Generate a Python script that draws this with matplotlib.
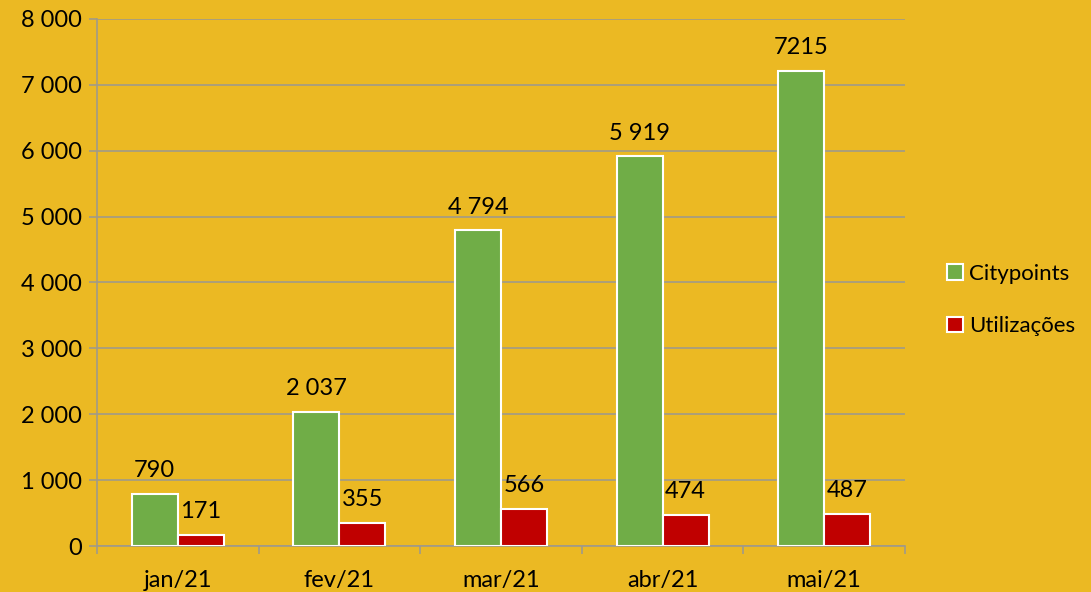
import matplotlib.pyplot as plt
import numpy as np

months = ['jan/21', 'fev/21', 'mar/21', 'abr/21', 'mai/21']
citypoints = [790, 2037, 4794, 5919, 7215]
utilizacoes = [171, 355, 566, 474, 487]
city_labels = ['790', '2 037', '4 794', '5 919', '7215']
util_labels = ['171', '355', '566', '474', '487']
yticks = [0, 1000, 2000, 3000, 4000, 5000, 6000, 7000, 8000]

bg = '#EBB923'
green = '#70AD47'
red = '#C00000'
grid = '#A09A88'
fs = 17

plt.rcParams['font.family'] = ['Lato', 'DejaVu Sans']

fig = plt.figure(figsize=(10.91, 5.92), dpi=100, facecolor=bg)
ax = fig.add_axes([0.0889, 0.0777, 0.7406, 0.8903])
ax.set_facecolor(bg)

x = np.arange(len(months))
w = 0.285
b1 = ax.bar(x - w/2, citypoints, w, color=green, edgecolor='white', linewidth=1.5,
            label='Citypoints', zorder=3)
b2 = ax.bar(x + w/2, utilizacoes, w, color=red, edgecolor='white', linewidth=1.5,
            label='Utilizações', zorder=3)

for bars, labs in ((b1, city_labels), (b2, util_labels)):
    for r, lab in zip(bars, labs):
        ax.annotate(lab, (r.get_x() + r.get_width()/2, r.get_height()),
                    xytext=(0, 9), textcoords='offset points',
                    ha='center', va='bottom', fontsize=fs)

ax.set_xlim(-0.5, len(months) - 0.5)
ax.set_ylim(0, 8000)
ax.set_yticks(yticks)
ax.set_yticklabels(['{:,}'.format(v).replace(',', ' ') for v in yticks], fontsize=fs)
ax.yaxis.grid(True, color=grid, linewidth=1.2, zorder=0)
ax.tick_params(axis='y', length=6, color=grid, width=1.2, pad=5)

ax.set_xticks(x)
ax.set_xticklabels(months, fontsize=fs)
ax.tick_params(axis='x', which='major', length=0, pad=17)
ax.set_xticks(np.arange(len(months) + 1) - 0.5, minor=True)
ax.tick_params(axis='x', which='minor', length=6, color=grid, width=1.2)

for s in ['top', 'right']:
    ax.spines[s].set_visible(False)
for s in ['left', 'bottom']:
    ax.spines[s].set_color(grid)
    ax.spines[s].set_linewidth(1.2)

fig.legend(handles=[b1, b2], loc='center left', bbox_to_anchor=(0.868, 0.493),
           frameon=False, fontsize=16, handlelength=0.7, handleheight=0.7,
           handletextpad=0.3, labelspacing=1.45, borderpad=0, borderaxespad=0)

fig.savefig('out.png', dpi=100, facecolor=bg)
